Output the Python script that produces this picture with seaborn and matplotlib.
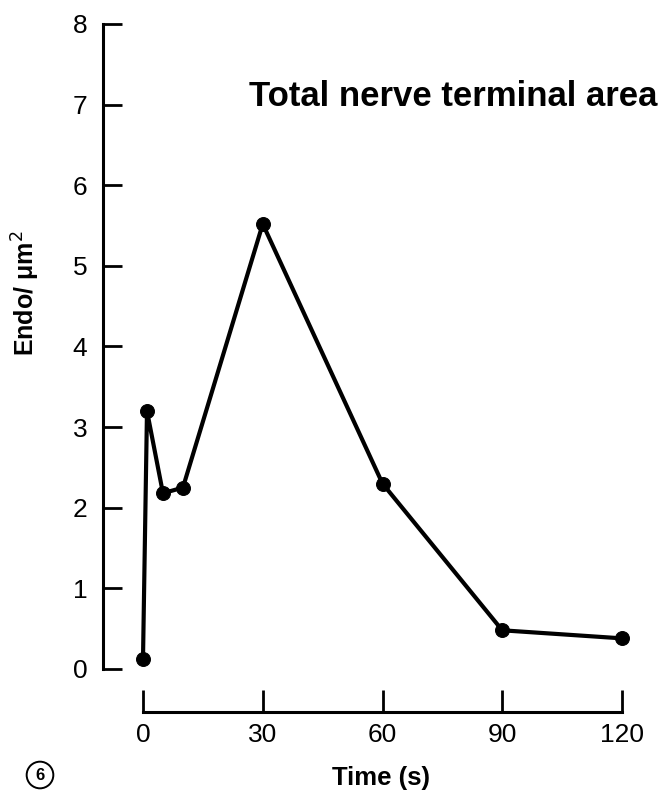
import matplotlib
matplotlib.use("Agg")
import matplotlib.pyplot as plt
import seaborn as sns
import pandas as pd

# Endocytic profiles per unit nerve-terminal area over time after stimulation
time_s = [0, 1, 5, 10, 30, 60, 90, 120]
endo_per_um2 = [0.13, 3.2, 2.18, 2.25, 5.52, 2.3, 0.48, 0.38]
x_ticks = [0, 30, 60, 90, 120]
y_ticks = [0, 1, 2, 3, 4, 5, 6, 7, 8]

df = pd.DataFrame({"time": time_s, "endo": endo_per_um2})

sns.set_theme(style="ticks")
plt.rcParams["font.family"] = ["Liberation Sans", "DejaVu Sans"]

fig = plt.figure(figsize=(6.6, 7.96), dpi=100)
ax = fig.add_axes([143 / 660, 1 - 669 / 796, (622 - 143) / 660, (669 - 24) / 796])

sns.lineplot(data=df, x="time", y="endo", ax=ax, color="black", linewidth=3.0,
             marker="o", markersize=10, markeredgecolor="black",
             markerfacecolor="black")
for ln in ax.lines:
    ln.set_clip_on(False)

ax.set_xlim(0, 120)
ax.set_ylim(0, 8)
ax.set_xticks(x_ticks)
ax.set_yticks(y_ticks)
ax.set_xlabel("")
ax.set_ylabel("")

for side in ("top", "right"):
    ax.spines[side].set_visible(False)
ax.spines["left"].set_position(("outward", 29))
ax.spines["bottom"].set_position(("outward", 31))
ax.spines["left"].set_bounds(0, 8)
ax.spines["bottom"].set_bounds(0, 120)
for side in ("left", "bottom"):
    ax.spines[side].set_linewidth(2.2)
    ax.spines[side].set_color("black")

ax.tick_params(axis="y", direction="in", length=14, width=2.0, pad=11,
               labelsize=19, colors="black")
ax.tick_params(axis="x", direction="in", length=16, width=2.0, pad=8,
               labelsize=19, colors="black")

fig.text(657 / 660, 1 - 97 / 796, "Total nerve terminal area", ha="right",
         va="center", fontsize=25, fontweight="bold", color="black")
fig.text(26 / 660, 1 - 293 / 796, "Endo/ \u03bcm$^2$", rotation=90, ha="center",
         va="center", fontsize=18, fontweight="bold", color="black")
fig.text(381 / 660, 1 - 778 / 796, "Time (s)", ha="center", va="center",
         fontsize=18.5, fontweight="bold", color="black")
fig.text(40 / 660, 1 - 775 / 796, "6", ha="center", va="center", fontsize=12,
         fontweight="bold", color="black",
         bbox=dict(boxstyle="circle,pad=0.35", facecolor="white",
                   edgecolor="black", linewidth=1.4))

fig.savefig("out.png", dpi=100, facecolor="white")
